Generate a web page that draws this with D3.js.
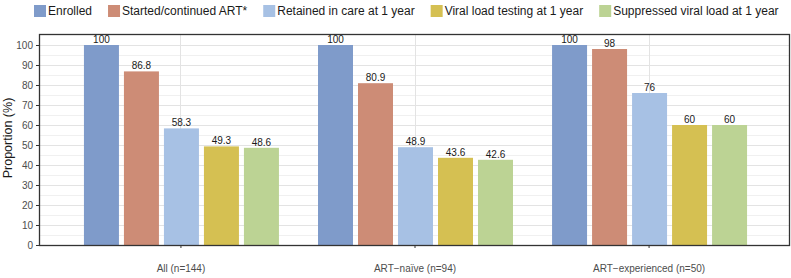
<!DOCTYPE html>
<html>
<head>
<meta charset="utf-8">
<script src="https://cdn.jsdelivr.net/npm/d3@7"></script>
<style>
  body { margin: 0; background: #fff; }
  text { font-family: "Liberation Sans", Arial, sans-serif; }
</style>
</head>
<body>
<svg id="chart" width="791" height="278"></svg>
<script>
// ---- data ----
const groups = ["All (n=144)", "ART\u2212na\u00efve (n=94)", "ART\u2212experienced (n=50)"];
const series = ["Enrolled", "Started/continued ART*", "Retained in care at 1 year",
                "Viral load testing at 1 year", "Suppressed viral load at 1 year"];
const colors = ["#7f9bca", "#cd8c76", "#a7c1e4", "#d5c052", "#bcd394"];
const values = [
  [100, 86.8, 58.3, 49.3, 48.6],
  [100, 80.9, 48.9, 43.6, 42.6],
  [100, 98, 76, 60, 60]
];
const yTicks = [0, 10, 20, 30, 40, 50, 60, 70, 80, 90, 100];

// ---- layout ----
const svg = d3.select("#chart");
const m = { left: 40, right: 789, top: 35, bottom: 245 };

const x = d3.scalePoint().domain(groups).range([m.left, m.right]).padding(0.6);
const inner = d3.scaleBand().domain(series).range([-99, 101])
  .paddingInner(0.125).paddingOuter(0.0625);
const y = d3.scaleLinear().domain([0, 105]).range([m.bottom, m.top]);
const color = d3.scaleOrdinal().domain(series).range(colors);

// minor grid
svg.append("g").selectAll("line")
  .data(d3.range(5, 105, 10))
  .join("line")
  .attr("x1", m.left).attr("x2", m.right)
  .attr("y1", d => y(d) + 0.5).attr("y2", d => y(d) + 0.5)
  .attr("stroke", "#f0f0f0").attr("stroke-width", 1);

// major grid
svg.append("g").selectAll("line")
  .data(yTicks)
  .join("line")
  .attr("x1", m.left).attr("x2", m.right)
  .attr("y1", d => y(d) + 0.5).attr("y2", d => y(d) + 0.5)
  .attr("stroke", "#e3e3e3").attr("stroke-width", 1);

svg.append("g").selectAll("line")
  .data(groups)
  .join("line")
  .attr("x1", d => Math.round(x(d)) + 0.5).attr("x2", d => Math.round(x(d)) + 0.5)
  .attr("y1", m.top).attr("y2", m.bottom)
  .attr("stroke", "#e3e3e3").attr("stroke-width", 1);

// bars
const gGroups = svg.append("g").selectAll("g")
  .data(groups)
  .join("g")
  .attr("transform", d => `translate(${x(d)},0)`);

gGroups.selectAll("rect")
  .data((d, i) => values[i].map((v, j) => ({ s: series[j], v })))
  .join("rect")
  .attr("x", d => inner(d.s))
  .attr("width", inner.bandwidth())
  .attr("y", d => y(d.v))
  .attr("height", d => y(0) - y(d.v))
  .attr("fill", d => color(d.s));

gGroups.selectAll("text")
  .data((d, i) => values[i].map((v, j) => ({ s: series[j], v })))
  .join("text")
  .attr("x", d => inner(d.s) + inner.bandwidth() / 2)
  .attr("y", d => y(d.v) - 2)
  .attr("text-anchor", "middle")
  .attr("font-size", 10)
  .attr("fill", "#1a1a1a")
  .text(d => d.v);

// panel border
svg.append("rect")
  .attr("x", m.left - 0.5).attr("y", m.top - 0.5)
  .attr("width", m.right - m.left + 1).attr("height", m.bottom - m.top + 1)
  .attr("fill", "none").attr("stroke", "#333").attr("stroke-width", 1.3);

// y axis
const yAxis = svg.append("g")
  .attr("transform", `translate(${m.left - 1},0)`)
  .call(d3.axisLeft(y).tickValues(yTicks).tickSize(3).tickPadding(3));
yAxis.select(".domain").remove();
yAxis.selectAll(".tick line").attr("stroke", "#333");
yAxis.selectAll(".tick text")
  .attr("font-size", 10).attr("fill", "#4d4d4d")
  .attr("font-family", "Liberation Sans, Arial, sans-serif");

// x axis
const xAxis = svg.append("g")
  .attr("transform", `translate(0,${m.bottom})`)
  .call(d3.axisBottom(x).tickSize(3).tickPadding(17));
xAxis.select(".domain").remove();
xAxis.selectAll(".tick line").attr("stroke", "#333");
xAxis.selectAll(".tick text")
  .attr("font-size", 10).attr("fill", "#4d4d4d")
  .attr("font-family", "Liberation Sans, Arial, sans-serif");

// y title
svg.append("text")
  .attr("transform", `translate(12,${(m.top + m.bottom) / 2 - 2}) rotate(-90)`)
  .attr("text-anchor", "middle")
  .attr("font-size", 12.5)
  .attr("fill", "#1a1a1a")
  .text("Proportion (%)");

// legend
const legend = svg.append("g");
let lx = 34;
series.forEach(s => {
  legend.append("rect")
    .attr("x", lx).attr("y", 5)
    .attr("width", 12).attr("height", 12)
    .attr("fill", color(s));
  const t = legend.append("text")
    .attr("x", lx + 14).attr("y", 15)
    .attr("font-size", 12)
    .attr("fill", "#1a1a1a")
    .text(s);
  lx += 14 + t.node().getComputedTextLength() + 16;
});
</script>
</body>
</html>
